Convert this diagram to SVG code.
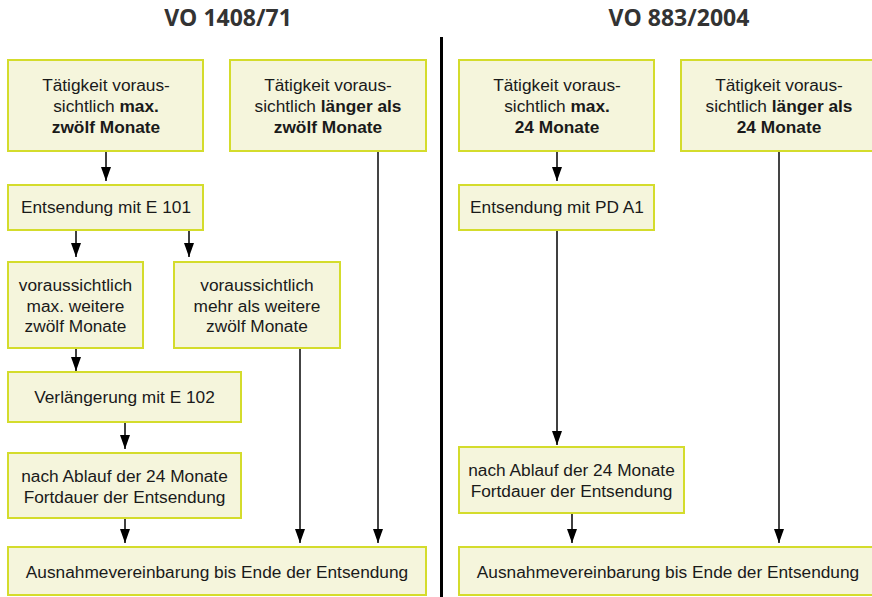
<svg xmlns="http://www.w3.org/2000/svg" width="872" height="597" viewBox="0 0 872 597">
<style>
.box{fill:#f5f5dc;stroke:#d4dc2c;stroke-width:2}
.t{font-family:"Liberation Sans",Arial,sans-serif;font-size:17.3px;fill:#1a1a1a;text-anchor:middle}
.b{font-weight:bold}
.title{font-family:"Open Sans","Liberation Sans",sans-serif;font-size:23px;font-weight:bold;fill:#333;text-anchor:middle}
.c{stroke:#000;stroke-width:1.5;fill:none;marker-end:url(#ah)}
.cl{stroke:#444;stroke-width:2;fill:none;marker-end:url(#ah)}
</style>
<defs>
<marker id="ah" markerUnits="userSpaceOnUse" markerWidth="14" markerHeight="10" refX="14" refY="5" orient="auto" viewBox="0 0 14 10">
<path d="M0,0 L14,5 L0,10 Z" fill="#000"/>
</marker>
</defs>
<rect width="872" height="597" fill="#fff"/>
<g id="titles">
<text class="title" x="228" y="26">VO 1408/71</text>
<text class="title" x="679" y="26">VO 883/2004</text>
<line x1="441.5" y1="37" x2="441.5" y2="597" stroke="#000" stroke-width="3"/>
</g>
<g id="connectors">
<path class="c" d="M106,151 V181"/>
<path class="c" d="M76,230 V257"/>
<path class="c" d="M189,230 V257"/>
<path class="c" d="M76,348 V371"/>
<path class="c" d="M125,422 V449"/>
<path class="c" d="M125,518 V543"/>
<path class="cl" d="M300,348 V543"/>
<path class="cl" d="M378,151 V543"/>
<path class="c" d="M557,151 V181"/>
<path class="c" d="M557,230 V445"/>
<path class="c" d="M572,513 V543"/>
<path class="cl" d="M779,151 V543"/>
</g>
<g id="n1">
<rect class="box" x="8" y="60" width="195" height="91"/>
<text class="t" x="106" y="91">Tätigkeit voraus-</text>
<text class="t" x="106" y="112">sichtlich <tspan class="b">max.</tspan></text>
<text class="t b" x="106" y="133">zwölf Monate</text>
</g>
<g id="n2">
<rect class="box" x="230" y="60" width="196" height="91"/>
<text class="t" x="328" y="91">Tätigkeit voraus-</text>
<text class="t" x="328" y="112">sichtlich <tspan class="b">länger als</tspan></text>
<text class="t b" x="328" y="133">zwölf Monate</text>
</g>
<g id="n3">
<rect class="box" x="8" y="185" width="195" height="45"/>
<text class="t" x="106" y="213">Entsendung mit E 101</text>
</g>
<g id="n4">
<rect class="box" x="8" y="262" width="135" height="86"/>
<text class="t" x="75.5" y="291">voraussichtlich</text>
<text class="t" x="75.5" y="311.5">max. weitere</text>
<text class="t" x="75.5" y="332">zwölf Monate</text>
</g>
<g id="n5">
<rect class="box" x="174" y="262" width="166" height="86"/>
<text class="t" x="257" y="291">voraussichtlich</text>
<text class="t" x="257" y="311.5">mehr als weitere</text>
<text class="t" x="257" y="332">zwölf Monate</text>
</g>
<g id="n6">
<rect class="box" x="8" y="372" width="233" height="50"/>
<text class="t" x="124.5" y="403">Verlängerung mit E 102</text>
</g>
<g id="n7">
<rect class="box" x="8" y="453" width="233" height="65"/>
<text class="t" x="124.5" y="482">nach Ablauf der 24 Monate</text>
<text class="t" x="124.5" y="502.5">Fortdauer der Entsendung</text>
</g>
<g id="n8">
<rect class="box" x="8" y="547" width="418" height="48"/>
<text class="t" x="217" y="577.5">Ausnahmevereinbarung bis Ende der Entsendung</text>
</g>
<g id="r1">
<rect class="box" x="459" y="60" width="195" height="91"/>
<text class="t" x="557" y="91">Tätigkeit voraus-</text>
<text class="t" x="557" y="112">sichtlich <tspan class="b">max.</tspan></text>
<text class="t b" x="557" y="133">24 Monate</text>
</g>
<g id="r2">
<rect class="box" x="681" y="60" width="196" height="91"/>
<text class="t" x="779" y="91">Tätigkeit voraus-</text>
<text class="t" x="779" y="112">sichtlich <tspan class="b">länger als</tspan></text>
<text class="t b" x="779" y="133">24 Monate</text>
</g>
<g id="r3">
<rect class="box" x="459" y="185" width="195" height="45"/>
<text class="t" x="557" y="213">Entsendung mit PD A1</text>
</g>
<g id="r4">
<rect class="box" x="459" y="447" width="225" height="66"/>
<text class="t" x="571.5" y="476">nach Ablauf der 24 Monate</text>
<text class="t" x="571.5" y="497">Fortdauer der Entsendung</text>
</g>
<g id="r5">
<rect class="box" x="459" y="547" width="418" height="48"/>
<text class="t" x="668" y="577.5">Ausnahmevereinbarung bis Ende der Entsendung</text>
</g>
</svg>
